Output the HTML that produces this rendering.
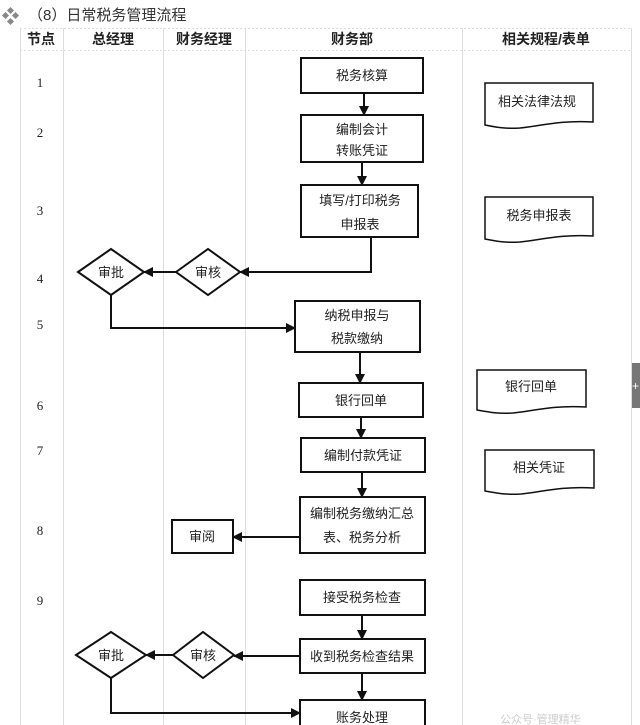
<!DOCTYPE html>
<html><head><meta charset="utf-8"><style>
html,body{margin:0;padding:0;background:#fff;width:640px;height:725px;overflow:hidden}
svg{display:block}
text{font-family:"Liberation Sans","Noto Sans CJK SC",sans-serif;fill:#222}
</style></head><body>
<svg width="640" height="725" viewBox="0 0 640 725" xmlns="http://www.w3.org/2000/svg">
<defs>
<marker id="a" markerWidth="10" markerHeight="10" refX="9" refY="5" orient="auto" markerUnits="userSpaceOnUse">
<path d="M0,0 L10,5 L0,10 z" fill="#111"/></marker>
</defs>
<!-- title -->
<g fill="#888">
<rect x="8" y="8" width="5" height="5" transform="rotate(45 10.5 10.5)"/>
<rect x="3" y="13" width="5" height="5" transform="rotate(45 5.5 15.5)"/>
<rect x="13" y="13" width="5" height="5" transform="rotate(45 15.5 15.5)"/>
<rect x="8" y="19" width="5" height="5" transform="rotate(45 10.5 21.5)"/>
</g>
<text x="28" y="20" font-size="15" style="fill:#333">（8）日常税务管理流程</text>
<!-- table grid -->
<g stroke="#ddd" stroke-width="1">
<line x1="20.5" y1="28" x2="20.5" y2="725"/>
<line x1="63.5" y1="28" x2="63.5" y2="725"/>
<line x1="163.5" y1="28" x2="163.5" y2="725"/>
<line x1="245.5" y1="28" x2="245.5" y2="725"/>
<line x1="462.5" y1="28" x2="462.5" y2="725"/>
<line x1="631.5" y1="28" x2="631.5" y2="725"/>
<line x1="20" y1="28.5" x2="632" y2="28.5" stroke-dasharray="2,2"/>
<line x1="20" y1="50.5" x2="632" y2="50.5" stroke-dasharray="2,2"/>
</g>
<g font-size="14" font-weight="bold" text-anchor="middle">
<text x="41" y="44">节点</text>
<text x="113" y="44">总经理</text>
<text x="204" y="44">财务经理</text>
<text x="352" y="44">财务部</text>
<text x="546" y="44">相关规程/表单</text>
</g>
<g font-size="13" text-anchor="middle" style="font-family:'Liberation Serif',serif">
<text x="40" y="87" style="font-family:'Liberation Serif',serif">1</text>
<text x="40" y="137" style="font-family:'Liberation Serif',serif">2</text>
<text x="40" y="215" style="font-family:'Liberation Serif',serif">3</text>
<text x="40" y="283" style="font-family:'Liberation Serif',serif">4</text>
<text x="40" y="329" style="font-family:'Liberation Serif',serif">5</text>
<text x="40" y="410" style="font-family:'Liberation Serif',serif">6</text>
<text x="40" y="455" style="font-family:'Liberation Serif',serif">7</text>
<text x="40" y="535" style="font-family:'Liberation Serif',serif">8</text>
<text x="40" y="605" style="font-family:'Liberation Serif',serif">9</text>
</g>
<!-- boxes -->
<g fill="#fff" stroke="#111" stroke-width="2">
<rect x="301" y="58" width="122" height="35"/>
<rect x="301" y="115" width="122" height="47"/>
<rect x="301" y="185" width="117" height="52"/>
<rect x="295" y="301" width="125" height="51"/>
<rect x="299" y="383" width="124" height="34"/>
<rect x="301" y="438" width="124" height="34"/>
<rect x="300" y="497" width="125" height="56"/>
<rect x="172" y="520" width="61" height="33"/>
<rect x="300" y="580" width="125" height="35"/>
<rect x="300" y="639" width="125" height="34"/>
<rect x="300" y="700" width="125" height="40"/>
<polygon points="78,272 111,249 144,272 111,295"/>
<polygon points="176,272 208,249 240,272 208,295"/>
<polygon points="76,655 111,632 146,655 111,678"/>
<polygon points="173,655 203,632 234,655 203,678"/>
</g>
<g fill="#fff" stroke="#111" stroke-width="1.5">
<path d="M485,83 H593 V122 C560,120 540,126 520,128 C505,129 495,127 485,125 Z"/>
<path d="M485,197 H593 V236 C560,234 540,240 520,242 C505,243 495,241 485,239 Z"/>
<path d="M477,370 H586 V407 C553,405 533,411 513,413 C498,414 488,412 477,410 Z"/>
<path d="M485,450 H594 V488 C561,486 541,492 521,494 C506,495 496,493 485,491 Z"/>
</g>
<g font-size="13" text-anchor="middle">
<text x="362" y="80">税务核算</text>
<text x="362" y="134">编制会计</text>
<text x="362" y="155">转账凭证</text>
<text x="360" y="205">填写/打印税务</text>
<text x="360" y="229">申报表</text>
<text x="357" y="320">纳税申报与</text>
<text x="357" y="343">税款缴纳</text>
<text x="361" y="405">银行回单</text>
<text x="363" y="460">编制付款凭证</text>
<text x="362" y="518">编制税务缴纳汇总</text>
<text x="362" y="542">表、税务分析</text>
<text x="202" y="541">审阅</text>
<text x="362" y="602">接受税务检查</text>
<text x="362" y="661">收到税务检查结果</text>
<text x="362" y="722">账务处理</text>
<text x="111" y="277">审批</text>
<text x="208" y="277">审核</text>
<text x="111" y="660">审批</text>
<text x="203" y="660">审核</text>
<text x="537" y="106">相关法律法规</text>
<text x="539" y="220">税务申报表</text>
<text x="531" y="391">银行回单</text>
<text x="539" y="472">相关凭证</text>
</g>
<!-- connectors -->
<g stroke="#111" stroke-width="2" fill="none" marker-end="url(#a)">
<line x1="364" y1="93" x2="364" y2="115"/>
<line x1="362" y1="162" x2="362" y2="185"/>
<polyline points="371,237 371,272 240,272"/>
<line x1="176" y1="272" x2="144" y2="272"/>
<polyline points="111,295 111,328 295,328"/>
<line x1="360" y1="352" x2="360" y2="383"/>
<line x1="361" y1="417" x2="361" y2="438"/>
<line x1="362" y1="472" x2="362" y2="497"/>
<line x1="300" y1="537" x2="233" y2="537"/>
<line x1="362" y1="615" x2="362" y2="639"/>
<line x1="300" y1="656" x2="234" y2="656"/>
<line x1="173" y1="655" x2="146" y2="655"/>
<polyline points="111,678 111,713 300,713"/>
<line x1="362" y1="673" x2="362" y2="700"/>
</g>
<rect x="632" y="363" width="8" height="45" fill="#777"/>
<text x="632" y="390" font-size="12" style="fill:#fff">+</text>
<text x="500" y="723" font-size="11" style="fill:#ccc">公众号·管理精华</text>
</svg>
</body></html>
